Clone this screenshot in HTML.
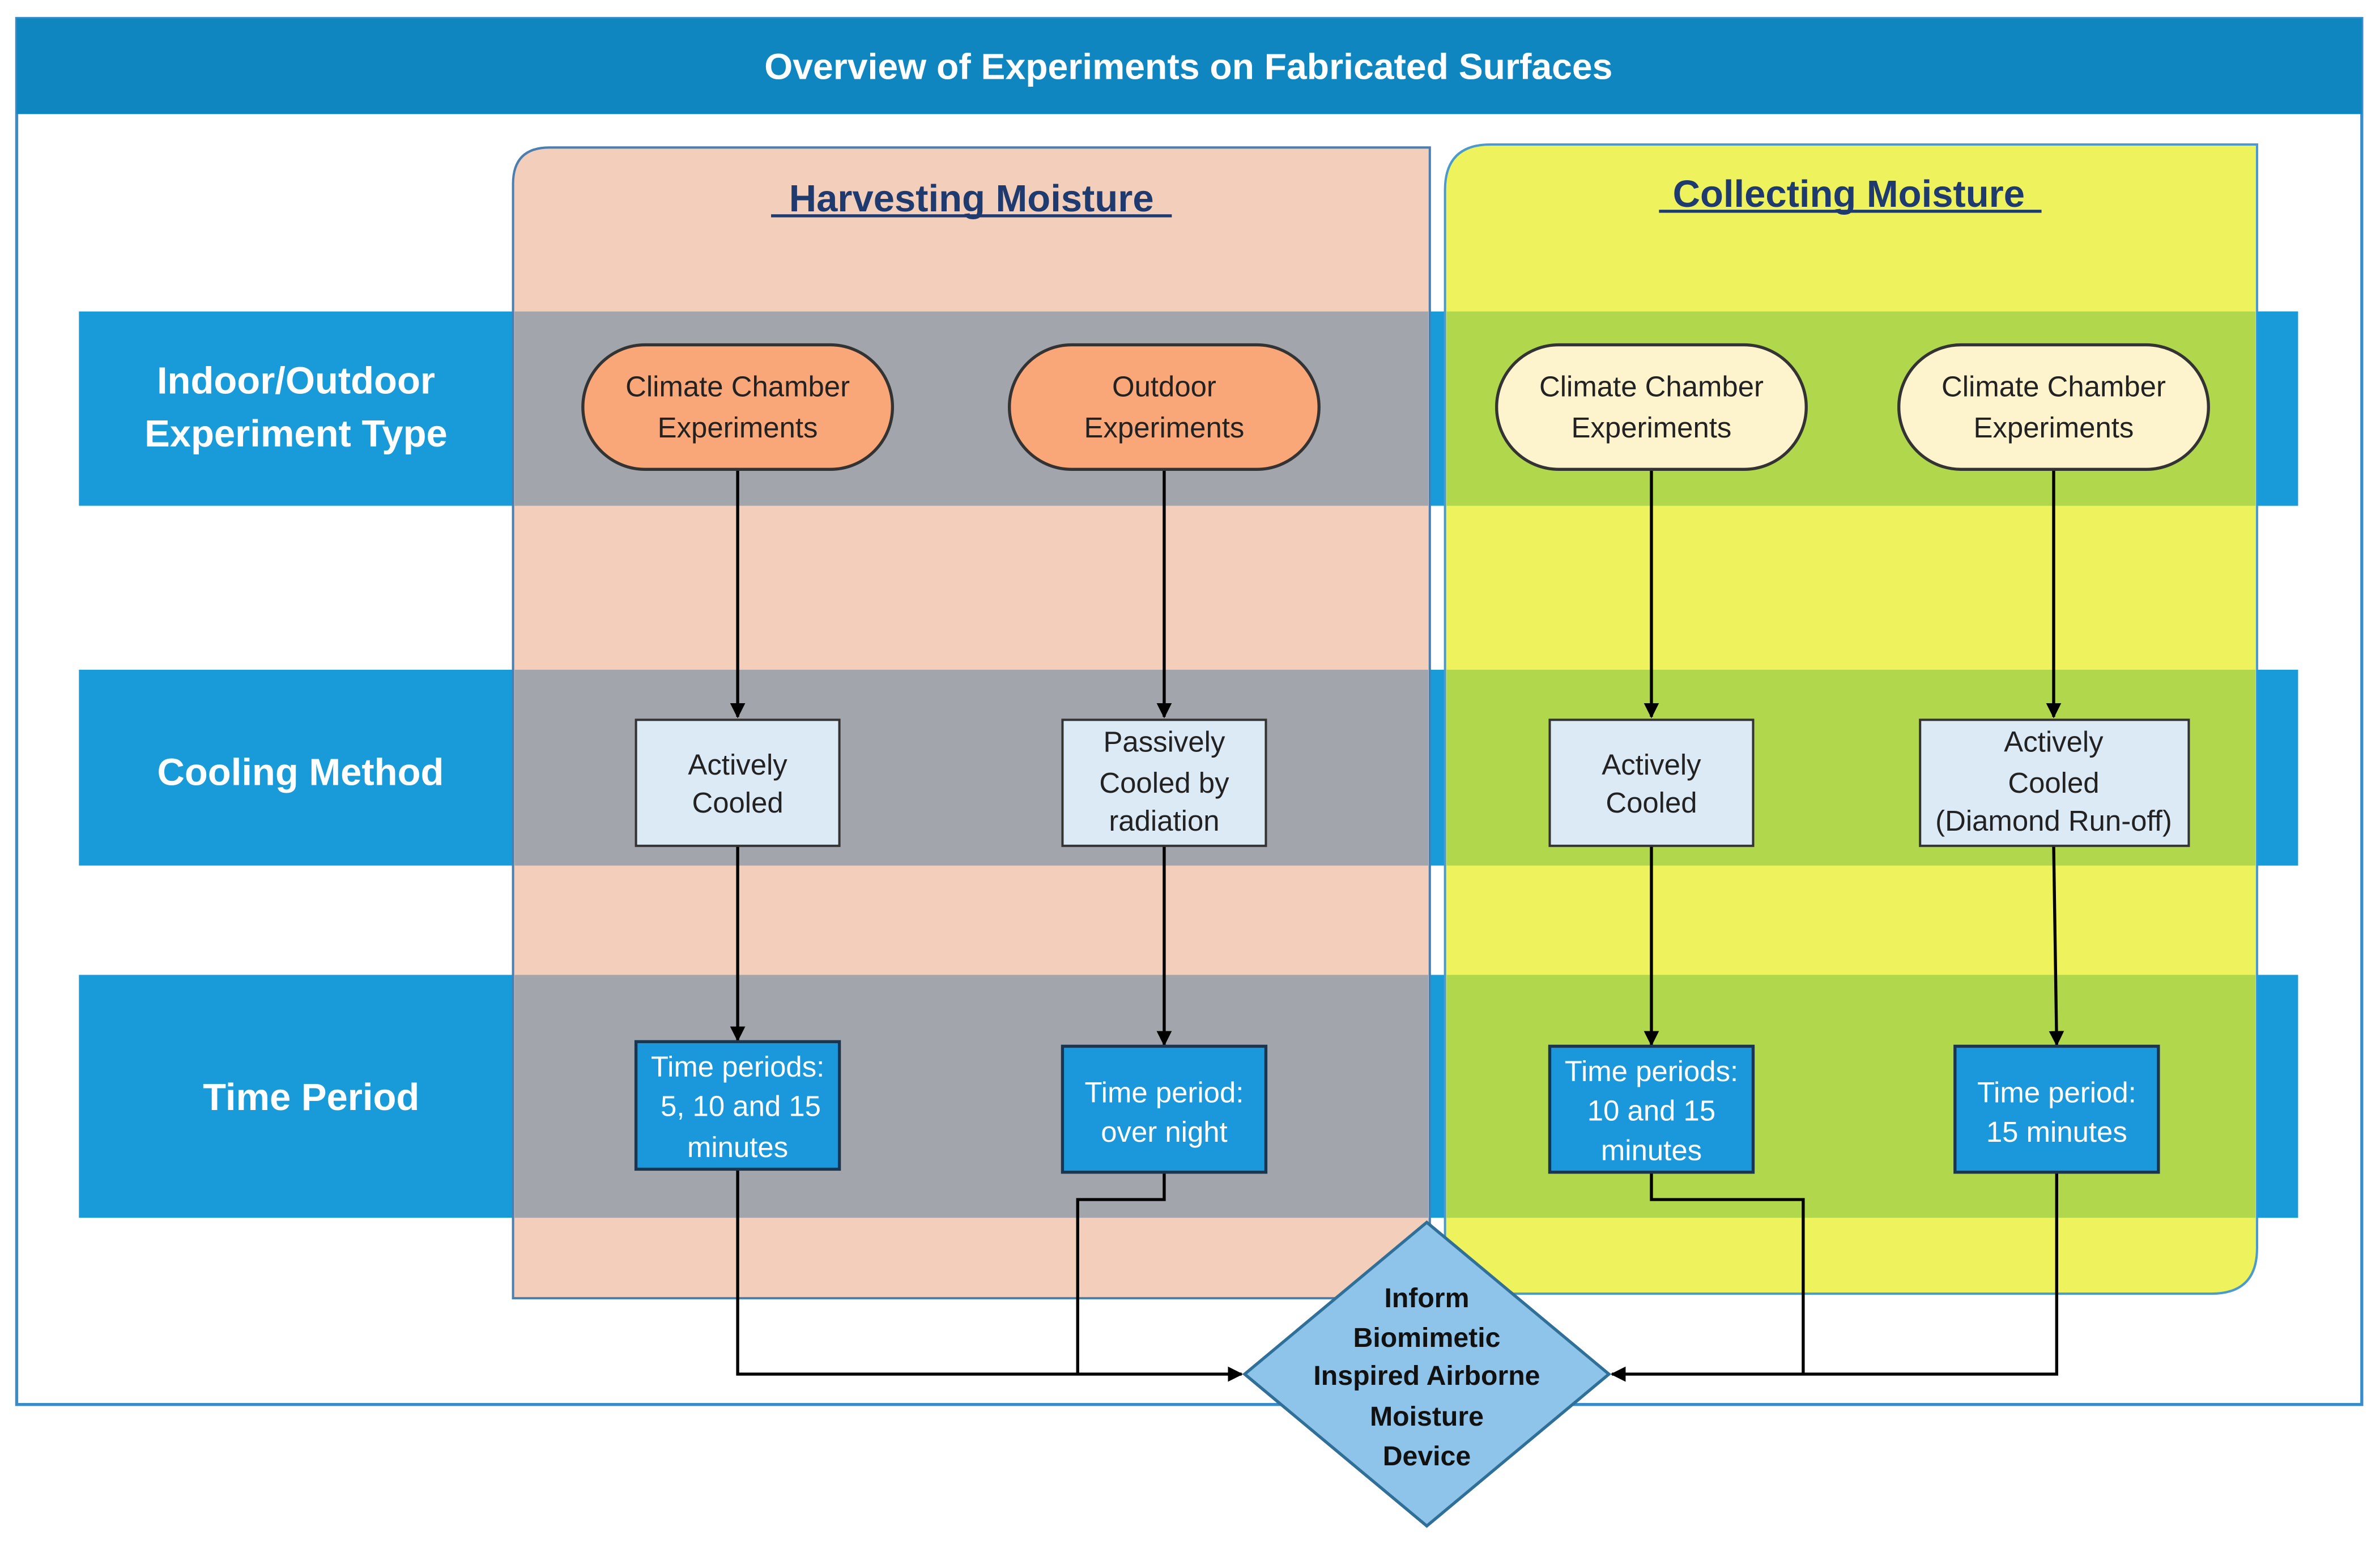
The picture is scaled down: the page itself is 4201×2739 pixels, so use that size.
<!DOCTYPE html>
<html><head><meta charset="utf-8"><style>
html,body{margin:0;padding:0;background:#fff;}
svg{display:block;}
text{font-family:"Liberation Sans",sans-serif;}
</style></head><body>
<svg width="4201" height="2739" viewBox="0 0 1568 1022" xmlns="http://www.w3.org/2000/svg">
<defs><marker id="a" markerWidth="10" markerHeight="10" refX="9" refY="5" orient="auto" markerUnits="userSpaceOnUse"><path d="M0,0 L10,5 L0,10 z" fill="#000"/></marker></defs>
<rect x="0" y="0" width="1568" height="1022" fill="#fff"/>
<rect x="11" y="12" width="1545" height="913" fill="#fff" stroke="#3a8cc8" stroke-width="2"/>
<rect x="11" y="12" width="1545" height="63" fill="#0f86c0"/>
<text x="783" y="52" font-size="24" font-weight="bold" fill="#fff" text-anchor="middle">Overview of Experiments on Fabricated Surfaces</text>
<rect x="52" y="205" width="1462" height="128" fill="#199bd9"/>
<rect x="52" y="441" width="1462" height="129" fill="#199bd9"/>
<rect x="52" y="642" width="1462" height="160" fill="#199bd9"/>
<path d="M362,97 H942 V855 H338 V121 Q338,97 362,97 Z" fill="#f3cfbb" stroke="#4a7fb0" stroke-width="1.5"/>
<rect x="339" y="205" width="602" height="128" fill="#a3a5ac"/>
<rect x="339" y="441" width="602" height="129" fill="#a3a5ac"/>
<rect x="339" y="642" width="602" height="160" fill="#a3a5ac"/>
<path d="M982,95 H1487 V822 Q1487,852 1457,852 H952 V125 Q952,95 982,95 Z" fill="#eef25c" stroke="#4a9ad0" stroke-width="1.5"/>
<rect x="953" y="205" width="533" height="128" fill="#b1d84c"/>
<rect x="953" y="441" width="533" height="129" fill="#b1d84c"/>
<rect x="953" y="642" width="533" height="160" fill="#b1d84c"/>
<rect x="1487" y="205" width="27" height="128" fill="#199bd9"/>
<rect x="1487" y="441" width="27" height="129" fill="#199bd9"/>
<rect x="1487" y="642" width="27" height="160" fill="#199bd9"/>
<g font-size="25" font-weight="bold" fill="#fff" text-anchor="middle">
<text x="195" y="259">Indoor/Outdoor</text>
<text x="195" y="294">Experiment Type</text>
<text x="198" y="517">Cooling Method</text>
<text x="205" y="731">Time Period</text>
</g>
<g font-size="25" font-weight="bold" fill="#1f3a6e" text-anchor="middle">
<text x="640" y="139">Harvesting Moisture</text>
<text x="1218" y="136">Collecting Moisture</text>
</g>
<rect x="508" y="141" width="264" height="2" fill="#1f3a6e"/>
<rect x="1093" y="138" width="252" height="2" fill="#1f3a6e"/>
<g stroke="#000" stroke-width="2" fill="none">
<line x1="486" y1="309" x2="486" y2="472" marker-end="url(#a)"/>
<line x1="767" y1="309" x2="767" y2="472" marker-end="url(#a)"/>
<line x1="1088" y1="309" x2="1088" y2="472" marker-end="url(#a)"/>
<line x1="1353" y1="309" x2="1353" y2="472" marker-end="url(#a)"/>
<line x1="486" y1="557" x2="486" y2="685" marker-end="url(#a)"/>
<line x1="767" y1="557" x2="767" y2="688" marker-end="url(#a)"/>
<line x1="1088" y1="557" x2="1088" y2="688" marker-end="url(#a)"/>
<line x1="1353" y1="557" x2="1355" y2="688" marker-end="url(#a)"/>
<polyline points="486,770 486,905 818,905" marker-end="url(#a)"/>
<polyline points="767,772 767,790 710,790 710,905"/>
<polyline points="1088,772 1088,790 1188,790 1188,905"/>
<polyline points="1355,772 1355,905 1062,905" marker-end="url(#a)"/>
</g>
<g stroke="#333" stroke-width="2">
<rect x="384" y="227" width="204" height="82" rx="41" fill="#f9a679"/>
<rect x="665" y="227" width="204" height="82" rx="41" fill="#f9a679"/>
<rect x="986" y="227" width="204" height="82" rx="41" fill="#fdf3cd"/>
<rect x="1251" y="227" width="204" height="82" rx="41" fill="#fdf3cd"/>
</g>
<g font-size="19" fill="#222" text-anchor="middle">
<text x="486" y="261">Climate Chamber</text><text x="486" y="288">Experiments</text>
<text x="767" y="261">Outdoor</text><text x="767" y="288">Experiments</text>
<text x="1088" y="261">Climate Chamber</text><text x="1088" y="288">Experiments</text>
<text x="1353" y="261">Climate Chamber</text><text x="1353" y="288">Experiments</text>
</g>
<g stroke="#333" stroke-width="1.5" fill="#dceaf6">
<rect x="419" y="474" width="134" height="83"/>
<rect x="700" y="474" width="134" height="83"/>
<rect x="1021" y="474" width="134" height="83"/>
<rect x="1265" y="474" width="177" height="83"/>
</g>
<g font-size="19" fill="#222" text-anchor="middle">
<text x="486" y="510">Actively</text><text x="486" y="535">Cooled</text>
<text x="767" y="495">Passively</text><text x="767" y="522">Cooled by</text><text x="767" y="547">radiation</text>
<text x="1088" y="510">Actively</text><text x="1088" y="535">Cooled</text>
<text x="1353" y="495">Actively</text><text x="1353" y="522">Cooled</text><text x="1353" y="547">(Diamond Run-off)</text>
</g>
<g stroke="#1a3550" stroke-width="2" fill="#1b98dc">
<rect x="419" y="686" width="134" height="84"/>
<rect x="700" y="689" width="134" height="83"/>
<rect x="1021" y="689" width="134" height="83"/>
<rect x="1288" y="689" width="134" height="83"/>
</g>
<g font-size="19" fill="#fff" text-anchor="middle">
<text x="486" y="709">Time periods:</text><text x="488" y="735">5, 10 and 15</text><text x="486" y="762">minutes</text>
<text x="767" y="726">Time period:</text><text x="767" y="752">over night</text>
<text x="1088" y="712">Time periods:</text><text x="1088" y="738">10 and 15</text><text x="1088" y="764">minutes</text>
<text x="1355" y="726">Time period:</text><text x="1355" y="752">15 minutes</text>
</g>
<polygon points="940,805 1060,905 940,1005 820,905" fill="#8ec4e9" stroke="#2f6f98" stroke-width="2"/>
<g font-size="18" font-weight="bold" fill="#111" text-anchor="middle">
<text x="940" y="861">Inform</text>
<text x="940" y="887">Biomimetic</text>
<text x="940" y="912">Inspired Airborne</text>
<text x="940" y="939">Moisture</text>
<text x="940" y="965">Device</text>
</g>
</svg>
</body></html>
